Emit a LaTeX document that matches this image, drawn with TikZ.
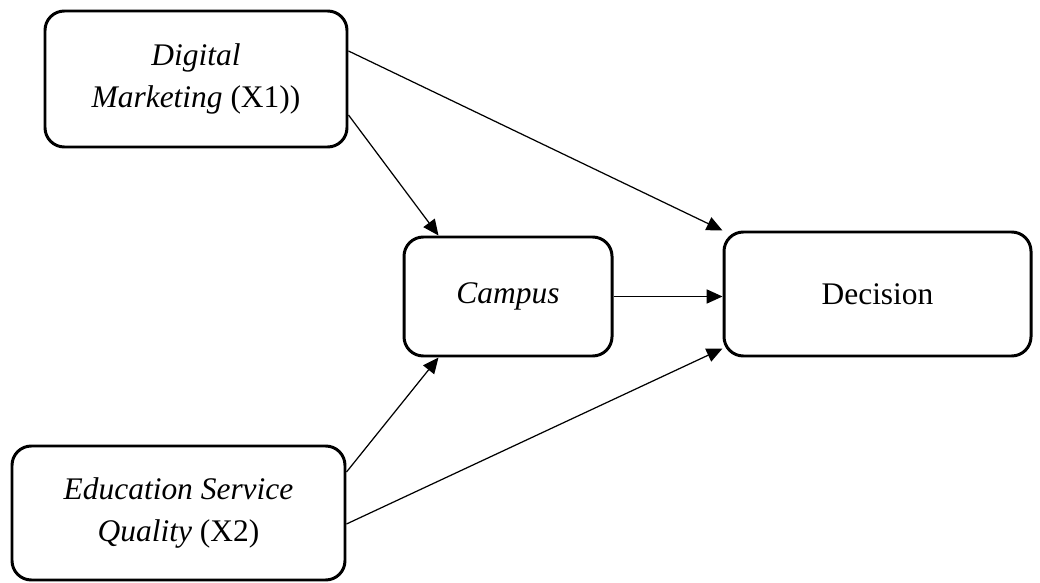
\documentclass[tikz,border=0pt]{standalone}
\usepackage{fontspec}
\setmainfont{Liberation Serif}
\usepackage{tikz}
\usetikzlibrary{calc}
\usetikzlibrary{arrows.meta}
\tikzset{
    varbox/.style={
    draw,
    line width=1.7pt,
    rounded corners=11pt,
    align=center,
    inner sep=0pt,
    font=\fontsize{17.9}{23.9}\selectfont
    },
    path/.style={-{Triangle[length=9pt,width=8pt]}, line width=0.7pt}
}

\begin{document}
\begin{tikzpicture}[x=0.02cm,y=0.02cm]
\useasboundingbox (0,0) rectangle (1040,582);
\node[varbox, minimum width=302*0.02cm, minimum height=136*0.02cm] (dm) at (196,503) {\textit{Digital}\\\textit{Marketing} (X1))};
\node[varbox, minimum width=208*0.02cm, minimum height=119*0.02cm] (cam) at (508,285.5) {\textit{Campus}};
\node[varbox, minimum width=307*0.02cm, minimum height=124*0.02cm] (dec) at (877.5,288) {Decision};
\node[varbox, minimum width=333*0.02cm, minimum height=134*0.02cm] (esq) at (178.5,69) {\textit{Education Service}\\\textit{Quality} (X2)};
\draw[path] ($(dm.east)+(0,28)$) -- (dec.north west);
\draw[path] ($(dm.east)+(0,-36)$) -- ($(cam.north west)+(36,0)$);
\draw[path] (cam.east) -- (cam.east -| dec.west);
\draw[path] ($(esq.east)+(0,41)$) -- ($(cam.south west)+(36,0)$);
\draw[path] ($(esq.east)+(0,-11)$) -- ($(dec.south west)+(0,9)$);
\end{tikzpicture}
\end{document}
